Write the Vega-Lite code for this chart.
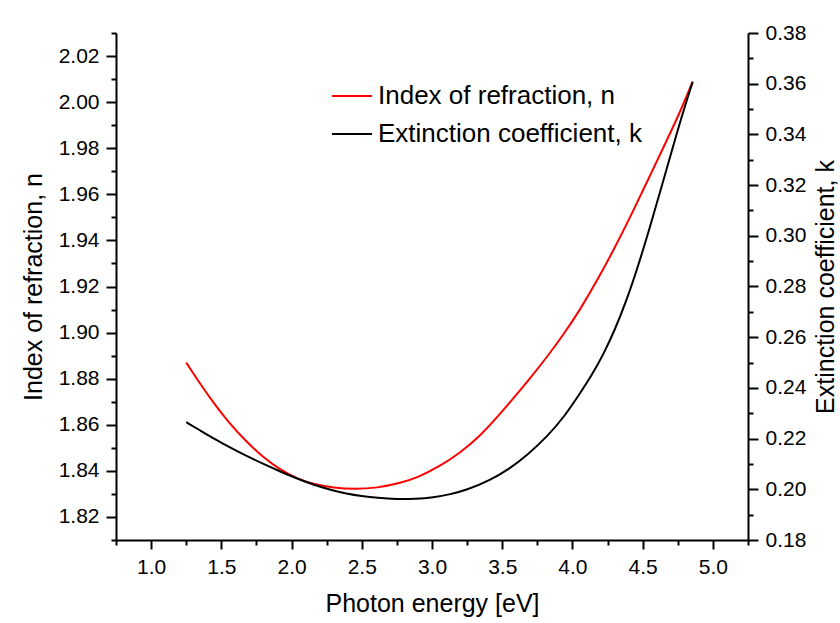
{
  "$schema": "https://vega.github.io/schema/vega-lite/v6.json",
  "width": 632,
  "height": 507,
  "autosize": "none",
  "padding": {"left": 116, "top": 33, "right": 92, "bottom": 83},
  "background": "white",
  "config": {
    "view": {"stroke": null},
    "font": "Liberation Sans",
    "axis": {
      "grid": false,
      "domainColor": "black",
      "domainWidth": 2,
      "tickColor": "black",
      "tickWidth": 2,
      "labelColor": "black",
      "titleColor": "black",
      "labelFont": "Liberation Sans",
      "titleFont": "Liberation Sans",
      "labelFontSize": 21,
      "titleFontSize": 25,
      "titleFontWeight": "normal",
      "labelOverlap": false,
      "labelPadding": 7,
      "labelFlush": false
    },
    "legend": {
      "labelFont": "Liberation Sans",
      "labelFontSize": 26,
      "labelColor": "black",
      "labelLimit": 500
    }
  },
  "datasets": {
    "nData": [
      {"E": 1.25, "n": 1.8870}, {"E": 1.35, "n": 1.8777}, {"E": 1.45, "n": 1.8690},
      {"E": 1.55, "n": 1.8612}, {"E": 1.68, "n": 1.8525}, {"E": 1.80, "n": 1.8458},
      {"E": 1.92, "n": 1.8404}, {"E": 2.05, "n": 1.8363}, {"E": 2.16, "n": 1.8342},
      {"E": 2.30, "n": 1.8326}, {"E": 2.45, "n": 1.8320}, {"E": 2.61, "n": 1.8326},
      {"E": 2.77, "n": 1.8346}, {"E": 2.90, "n": 1.8372}, {"E": 3.05, "n": 1.8418},
      {"E": 3.20, "n": 1.8478}, {"E": 3.34, "n": 1.8550}, {"E": 3.46, "n": 1.8630},
      {"E": 3.58, "n": 1.8715}, {"E": 3.70, "n": 1.8803}, {"E": 3.82, "n": 1.8895},
      {"E": 3.94, "n": 1.8995}, {"E": 4.05, "n": 1.9095}, {"E": 4.18, "n": 1.9230},
      {"E": 4.31, "n": 1.9378}, {"E": 4.43, "n": 1.9525}, {"E": 4.55, "n": 1.9678},
      {"E": 4.67, "n": 1.9832}, {"E": 4.77, "n": 1.9962}, {"E": 4.856, "n": 2.0089}
    ],
    "kData": [
      {"E": 1.25, "k": 0.2265}, {"E": 1.35, "k": 0.2232}, {"E": 1.45, "k": 0.2199},
      {"E": 1.56, "k": 0.2165}, {"E": 1.68, "k": 0.2131}, {"E": 1.80, "k": 0.2100},
      {"E": 1.92, "k": 0.2070}, {"E": 2.04, "k": 0.2042}, {"E": 2.16, "k": 0.2017},
      {"E": 2.28, "k": 0.1997}, {"E": 2.39, "k": 0.1983}, {"E": 2.50, "k": 0.1973},
      {"E": 2.61, "k": 0.1966}, {"E": 2.75, "k": 0.1961}, {"E": 2.88, "k": 0.1962},
      {"E": 3.01, "k": 0.1968}, {"E": 3.13, "k": 0.1980}, {"E": 3.25, "k": 0.1998},
      {"E": 3.41, "k": 0.2035}, {"E": 3.55, "k": 0.2080}, {"E": 3.68, "k": 0.2136},
      {"E": 3.82, "k": 0.2208}, {"E": 3.94, "k": 0.2285}, {"E": 4.05, "k": 0.2375},
      {"E": 4.14, "k": 0.2452}, {"E": 4.22, "k": 0.2532}, {"E": 4.30, "k": 0.2626},
      {"E": 4.39, "k": 0.2752}, {"E": 4.47, "k": 0.2885}, {"E": 4.55, "k": 0.3030},
      {"E": 4.63, "k": 0.3185}, {"E": 4.71, "k": 0.3340}, {"E": 4.78, "k": 0.3475},
      {"E": 4.856, "k": 0.3607}
    ]
  },
  "encoding": {
    "x": {
      "field": "E",
      "type": "quantitative",
      "scale": {"domain": [0.75, 5.25], "nice": false, "zero": false},
      "axis": {
        "orient": "bottom",
        "title": "Photon energy [eV]",
        "titlePadding": 14,
        "values": [0.75, 1.0, 1.25, 1.5, 1.75, 2.0, 2.25, 2.5, 2.75, 3.0, 3.25, 3.5, 3.75, 4.0, 4.25, 4.5, 4.75, 5.0, 5.25],
        "labelExpr": "round(datum.value*4)%2==0 ? format(datum.value,'.1f') : ''",
        "tickSize": {"condition": {"test": "round(datum.value*4)%2==0", "value": 9}, "value": 5}
      }
    }
  },
  "layer": [
    {
      "data": {"name": "nData"},
      "mark": {"type": "line", "strokeWidth": 2, "interpolate": "basis"},
      "encoding": {
        "y": {
          "field": "n",
          "type": "quantitative",
          "scale": {"domain": [1.81, 2.03], "nice": false, "zero": false},
          "axis": {
            "orient": "left",
            "title": "Index of refraction, n",
            "titlePadding": 12,
            "values": [1.81, 1.82, 1.83, 1.84, 1.85, 1.86, 1.87, 1.88, 1.89, 1.9, 1.91, 1.92, 1.93, 1.94, 1.95, 1.96, 1.97, 1.98, 1.99, 2.0, 2.01, 2.02, 2.03],
            "labelExpr": "round(datum.value*100)%2==0 ? format(datum.value,'.2f') : ''",
            "tickSize": {"condition": {"test": "round(datum.value*100)%2==0", "value": 10}, "value": 5}
          }
        },
        "color": {
          "datum": "Index of refraction, n",
          "type": "nominal",
          "scale": {"domain": ["Index of refraction, n", "Extinction coefficient, k"], "range": ["#ff0000", "#000000"]},
          "legend": {
            "orient": "none",
            "legendX": 215,
            "legendY": 52,
            "title": null,
            "symbolType": "stroke",
            "symbolSize": 1600,
            "symbolStrokeWidth": 2,
            "clipHeight": 22,
            "rowPadding": 12,
            "labelOffset": 5,
            "padding": 0
          }
        }
      }
    },
    {
      "data": {"name": "kData"},
      "mark": {"type": "line", "strokeWidth": 2, "interpolate": "basis"},
      "encoding": {
        "y": {
          "field": "k",
          "type": "quantitative",
          "scale": {"domain": [0.18, 0.38], "nice": false, "zero": false},
          "axis": {
            "orient": "right",
            "title": "Extinction coefficient, k",
            "titleAngle": 270,
            "titleBaseline": "top",
            "titlePadding": 8,
            "values": [0.18, 0.19, 0.2, 0.21, 0.22, 0.23, 0.24, 0.25, 0.26, 0.27, 0.28, 0.29, 0.3, 0.31, 0.32, 0.33, 0.34, 0.35, 0.36, 0.37, 0.38],
            "labelExpr": "round(datum.value*100)%2==0 ? format(datum.value,'.2f') : ''",
            "tickSize": {"condition": {"test": "round(datum.value*100)%2==0", "value": 10}, "value": 5}
          }
        },
        "color": {"datum": "Extinction coefficient, k", "type": "nominal"}
      }
    }
  ],
  "resolve": {"scale": {"y": "independent"}}
}
